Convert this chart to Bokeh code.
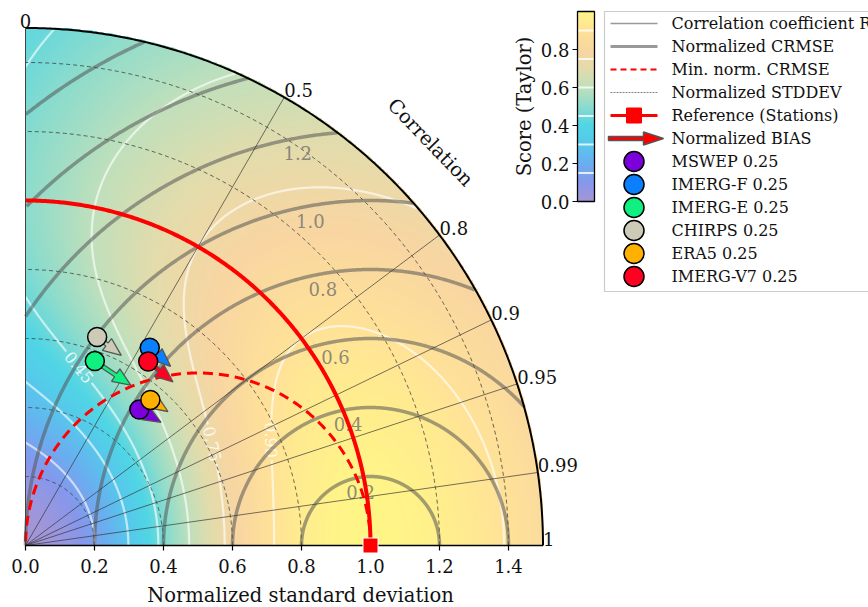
import numpy as np
from bokeh.plotting import figure
from bokeh.layouts import row
from bokeh.models import Range1d, FixedTicker, PrintfTickFormatter
from bokeh.core.properties import value
from bokeh.embed import file_html
from bokeh.resources import INLINE

# ---------------- data ----------------
datasets = ["MSWEP 0.25", "IMERG-F 0.25", "IMERG-E 0.25", "CHIRPS 0.25", "ERA5 0.25", "IMERG-V7 0.25"]
point_colors = ["#7b00dc", "#0a80ff", "#10f080", "#cdcab8", "#ffb000", "#ff0022"]
norm_std = [0.514, 0.677, 0.571, 0.639, 0.556, 0.641]
correlation = [0.642, 0.532, 0.352, 0.325, 0.651, 0.555]
norm_bias = [0.073, 0.081, 0.125, 0.088, 0.061, 0.093]

ref_std = 1.0
std_max = 1.5
std_ticks = [0.0, 0.2, 0.4, 0.6, 0.8, 1.0, 1.2, 1.4]
std_grid = [0.2, 0.4, 0.6, 0.8, 1.2, 1.4]
corr_grid = [0.5, 0.8, 0.9, 0.95, 0.99]
corr_labels = [0.0, 0.5, 0.8, 0.9, 0.95, 0.99, 1.0]
corr_label_text = ["0", "0.5", "0.8", "0.9", "0.95", "0.99", "1"]
crmse_levels = [0.2, 0.4, 0.6, 0.8, 1.0, 1.2, 1.4, 1.6]
crmse_labelled = [0.2, 0.4, 0.6, 0.8, 1.0, 1.2]
score_levels = [0.15, 0.30, 0.45, 0.60, 0.75, 0.90]
score_label_levels = [0.45, 0.75, 0.90]
score_label_corr = [0.288, 0.879, 0.919]
cbar_ticks = [0.0, 0.2, 0.4, 0.6, 0.8]

cmap_stops = [0.0, 0.1, 0.2, 0.3, 0.4, 0.5, 0.6, 0.7, 0.8, 0.9, 1.0]
cmap_rgb = [(165, 150, 215), (135, 152, 236), (105, 176, 240), (88, 200, 236),
            (80, 214, 230), (140, 220, 205), (192, 224, 188), (228, 220, 172),
            (249, 214, 162), (255, 226, 152), (255, 246, 135)]

FONT = value("DejaVu Serif")

# ---------------- page geometry ----------------
PX = 345.0             # pixels per unit of normalised std
X0, Y0 = 25, 545       # pixel position of the origin
W, H = 868, 607
SPLIT = 600            # width of the diagram panel; the legend panel fills the rest
BOTTOM = 553           # bottom of both frames (a little below the std axis)


def px2x(px):
    return (px - X0) / PX


def py2y(py):
    return (Y0 - py) / PX


def taylor_score(sig, r):
    return 2.0 * (1.0 + r) / (sig + 1.0 / sig) ** 2


def colormap(vals):
    vals = np.clip(np.asarray(vals, float), 0, 1)
    return [np.interp(vals, cmap_stops, [c[i] for c in cmap_rgb]) for i in range(3)]


p = figure(frame_width=SPLIT, frame_height=BOTTOM,
           x_range=Range1d(px2x(0), px2x(SPLIT)), y_range=Range1d(py2y(BOTTOM), py2y(0)),
           min_border_left=0, min_border_right=0, min_border_top=0, min_border_bottom=H - BOTTOM,
           y_axis_location=None, output_backend="svg", toolbar_location=None)
p.grid.visible = False
p.outline_line_color = None
p.background_fill_color = "white"
p.border_fill_color = "white"

# ---------------- score field ----------------
n = 700
g = np.linspace(0, std_max, n)
gx, gy = np.meshgrid(g, g)
sig = np.hypot(gx, gy)
safe = np.where(sig > 0, sig, 1.0)
score = np.where(sig > 0, taylor_score(safe, gx / safe), 0.0)
rgba = np.zeros((n, n, 4), dtype=np.uint8)
rch, gch, bch = colormap(score)
rgba[..., 0] = rch
rgba[..., 1] = gch
rgba[..., 2] = bch
rgba[..., 3] = np.where(sig <= std_max + 0.004, 255, 0)
p.image_rgba(image=[rgba.view(np.uint32).reshape(n, n)], x=0, y=0, dw=std_max, dh=std_max)


# ---------------- score contours ----------------
def inner_sigma(level, r):
    k = np.sqrt(2 * (1 + r) / level)
    return (k - np.sqrt(np.maximum(k * k - 4, 0))) / 2


def contour_xy(level):
    r_lo = 2 * level - 1
    t = np.linspace(0, 1, 600)
    R = r_lo + (1 - r_lo) * t ** 2 if r_lo > 0 else t
    k = np.sqrt(2 * (1 + R) / level)
    d = np.sqrt(np.maximum(k * k - 4, 0))
    s_in, s_out = (k - d) / 2, (k + d) / 2
    if r_lo > 0:
        s = np.concatenate([s_in[::-1], s_out])
        rr = np.concatenate([R[::-1], R])
    else:
        s = np.concatenate([s_in[::-1], [np.nan], s_out])
        rr = np.concatenate([R[::-1], [np.nan], R])
    x = s * rr
    y = s * np.sqrt(np.clip(1 - rr ** 2, 0, 1))
    out = s > std_max
    x[out] = np.nan
    y[out] = np.nan
    return x, y


lab_x, lab_y, lab_a, lab_t = [], [], [], []
for lev, rl in zip(score_label_levels, score_label_corr):
    s0 = inner_sigma(lev, rl)
    cx, cy = s0 * rl, s0 * np.sqrt(1 - rl ** 2)
    s1, s2 = inner_sigma(lev, rl - 0.004), inner_sigma(lev, rl + 0.004)
    dx = s2 * (rl + 0.004) - s1 * (rl - 0.004)
    dy = s2 * np.sqrt(1 - (rl + 0.004) ** 2) - s1 * np.sqrt(1 - (rl - 0.004) ** 2)
    ang = np.arctan2(dy, dx)
    if ang > np.pi / 2:
        ang -= np.pi
    if ang < -np.pi / 2:
        ang += np.pi
    lab_x.append(cx)
    lab_y.append(cy)
    lab_a.append(ang)
    lab_t.append(f"{lev:.2f}")

for lev in score_levels:
    x, y = contour_xy(lev)
    for cx, cy in zip(lab_x, lab_y):
        near = np.hypot(x - cx, y - cy) < 0.058
        x[near] = np.nan
        y[near] = np.nan
    p.line(x, y, line_color="white", line_alpha=0.62, line_width=2.2)

p.text(lab_x, lab_y, text=lab_t, angle=lab_a, text_font=FONT, text_font_size="16px",
       text_color="white", text_alpha=0.85, text_align="center", text_baseline="middle")

# ---------------- standard deviation arcs ----------------
th = np.linspace(0, np.pi / 2, 300)
p.multi_line([list(r * np.cos(th)) for r in std_grid], [list(r * np.sin(th)) for r in std_grid],
             line_color="#3a3a3a", line_width=0.9, line_dash="4 3", line_alpha=0.85)

# ---------------- CRMSE circles around the reference ----------------
phi = np.linspace(0, np.pi, 800)
for r in crmse_levels:
    x = ref_std + r * np.cos(phi)
    y = r * np.sin(phi)
    bad = (np.hypot(x, y) > std_max) | (x < 0)
    x[bad] = np.nan
    y[bad] = np.nan
    p.line(x, y, line_color="#555555", line_alpha=0.55, line_width=3.5)

lab_ang = np.deg2rad(100.5)
cl = np.array(crmse_labelled)
p.text(ref_std + (cl - 0.043) * np.cos(lab_ang), (cl - 0.043) * np.sin(lab_ang),
       text=[f"{v:.1f}" for v in crmse_labelled], text_font=FONT, text_font_size="18px",
       text_color="#707070", text_alpha=0.8, text_align="center", text_baseline="middle")

# ---------------- correlation rays ----------------
cg = np.array(corr_grid)
p.segment(x0=0, y0=0, x1=std_max * cg, y1=std_max * np.sqrt(1 - cg ** 2),
          line_color="#333333", line_width=0.8, line_alpha=0.85)

# ---------------- reference std arc and min-CRMSE locus ----------------
p.line(ref_std * np.cos(th), ref_std * np.sin(th), line_color="red", line_width=4)
ph = np.linspace(0, np.pi, 300)
p.line(ref_std / 2 + ref_std / 2 * np.cos(ph), ref_std / 2 * np.sin(ph),
       line_color="red", line_width=3, line_dash="10 6")

# ---------------- outline of the quarter disc and the std axis ----------------
p.line(std_max * np.cos(th), std_max * np.sin(th), line_color="black", line_width=2)
p.segment(x0=[0], y0=[0], x1=[0], y1=[std_max], line_color="#444444", line_width=1)
p.segment(x0=[0], y0=[0], x1=[std_max], y1=[0], line_color="black", line_width=1.3)
st = np.array(std_ticks)
p.segment(x0=st, y0=0, x1=st, y1=-5 / PX, line_color="black", line_width=1.2)

# correlation labels around the outer arc
ca = np.array(corr_labels)
ang_c = np.arccos(ca)
lx = std_max * np.cos(ang_c)
ly = std_max * np.sin(ang_c)
align = ["center" if v == 0 else "left" for v in corr_labels]
p.text(lx, ly, text=corr_label_text, text_font=FONT, text_font_size="18px",
       text_color="#111111", text_align=align, text_baseline="bottom")
p.text([px2x(430)], [py2y(142)], text=["Correlation"], angle=[np.deg2rad(-46)], text_font=FONT,
       text_font_size="19.5px", text_color="#111111", text_align="center", text_baseline="middle")

# ---------------- bias arrows and model points ----------------
std_a = np.array(norm_std)
cor_a = np.array(correlation)
px_pt = std_a * cor_a
py_pt = std_a * np.sqrt(1 - cor_a ** 2)


def arrow_poly(x0, y0, ux, uy, length, hl, hw, sw):
    nx_, ny_ = -uy, ux
    tx, ty = x0 + ux * length, y0 + uy * length
    bx, by = tx - ux * hl, ty - uy * hl
    xs = [x0 + nx_ * sw / 2, bx + nx_ * sw / 2, bx + nx_ * hw / 2, tx,
          bx - nx_ * hw / 2, bx - nx_ * sw / 2, x0 - nx_ * sw / 2]
    ys = [y0 + ny_ * sw / 2, by + ny_ * sw / 2, by + ny_ * hw / 2, ty,
          by - ny_ * hw / 2, by - ny_ * sw / 2, y0 - ny_ * sw / 2]
    return xs, ys


axs, ays = [], []
for x0, y0, b in zip(px_pt, py_pt, norm_bias):
    dx, dy = ref_std - x0, -y0
    d = np.hypot(dx, dy)
    xs, ys = arrow_poly(x0, y0, dx / d, dy / d, b, 18 / PX, 15 / PX, 4 / PX)
    axs.append(xs)
    ays.append(ys)
p.patches(axs, ays, fill_color=point_colors, line_color="#555555", line_width=1.3)
p.scatter(px_pt, py_pt, size=19, marker="circle", fill_color=point_colors,
          line_color="black", line_width=1.5)

# reference point
p.scatter([ref_std], [0], marker="square", size=15, fill_color="red", line_color="white", line_width=1)

# ---------------- x axis (labels) ----------------
ax = p.xaxis[0]
ax.ticker = FixedTicker(ticks=std_ticks)
ax.formatter = PrintfTickFormatter(format="%.1f")
ax.axis_line_color = None
ax.major_tick_line_color = None
ax.minor_tick_line_color = None
ax.major_tick_in = 0
ax.major_tick_out = 0
ax.major_label_standoff = 5
ax.major_label_text_font = "DejaVu Serif"
ax.major_label_text_font_size = "18px"
ax.major_label_text_color = "#111111"
ax.axis_label = "Normalized standard deviation"
ax.axis_label_text_font = "DejaVu Serif"
ax.axis_label_text_font_style = "normal"
ax.axis_label_text_font_size = "19.5px"
ax.axis_label_text_color = "#111111"
ax.axis_label_standoff = 8

# ---------------- colour bar ----------------
cb_l, cb_r, cb_b, cb_t = px2x(577), px2x(594), py2y(201), py2y(11)
cv = np.linspace(0, 1, 300)
cr, cgc, cbc = colormap(cv)
cb = np.zeros((300, 1, 4), dtype=np.uint8)
cb[:, 0, 0], cb[:, 0, 1], cb[:, 0, 2], cb[:, 0, 3] = cr, cgc, cbc, 255
p.image_rgba(image=[cb.view(np.uint32).reshape(300, 1)], x=cb_l, y=cb_b, dw=cb_r - cb_l, dh=cb_t - cb_b)
lv = np.array(score_levels)
p.segment(x0=cb_l, x1=cb_r, y0=cb_b + lv * (cb_t - cb_b), y1=cb_b + lv * (cb_t - cb_b),
          line_color="white", line_width=2, line_alpha=0.8)
p.quad(left=[cb_l], right=[cb_r], bottom=[cb_b], top=[cb_t], fill_color=None,
       line_color="black", line_width=1.3)
tv = np.array(cbar_ticks)
ty_ = cb_b + tv * (cb_t - cb_b)
p.segment(x0=px2x(572), x1=cb_l, y0=ty_, y1=ty_, line_color="black", line_width=1)
p.text([px2x(569)] * len(tv), ty_, text=[f"{v:.1f}" for v in cbar_ticks], text_font=FONT,
       text_font_size="18px", text_color="#111111", text_align="right", text_baseline="middle")
p.text([px2x(524)], [py2y(106)], text=["Score (Taylor)"], angle=[np.pi / 2], text_font=FONT,
       text_font_size="19.5px", text_color="#111111", text_align="center", text_baseline="middle")

# ---------------- legend panel (pixel coordinates, y downwards) ----------------
q = figure(frame_width=W - SPLIT, frame_height=BOTTOM, x_range=Range1d(SPLIT, W),
           y_range=Range1d(BOTTOM, 0), min_border_left=0, min_border_right=0, min_border_top=0,
           min_border_bottom=H - BOTTOM, x_axis_location=None, y_axis_location=None,
           output_backend="svg", toolbar_location=None)
q.grid.visible = False
q.outline_line_color = None
q.background_fill_color = "white"
q.border_fill_color = "white"

q.quad(left=[604], right=[880], bottom=[291], top=[11], fill_color="white",
       line_color="#cccccc", line_width=1.2)
entries = ["Correlation coefficient R", "Normalized CRMSE", "Min. norm. CRMSE", "Normalized STDDEV",
           "Reference (Stations)", "Normalized BIAS"] + datasets
row_y = [23 + 23 * i for i in range(len(entries))]
h0, h1, hc = 610, 657, 633.5
q.segment(x0=[h0], x1=[h1], y0=[row_y[0]], y1=[row_y[0]], line_color="#999999", line_width=1.3)
q.segment(x0=[h0], x1=[h1], y0=[row_y[1]], y1=[row_y[1]], line_color="#999999", line_width=3)
q.segment(x0=[h0], x1=[h1], y0=[row_y[2]], y1=[row_y[2]], line_color="red", line_width=2.2,
          line_dash="6 4")
q.segment(x0=[h0], x1=[h1], y0=[row_y[3]], y1=[row_y[3]], line_color="#666666", line_width=0.8,
          line_dash="2 1")
q.segment(x0=[h0], x1=[h1], y0=[row_y[4]], y1=[row_y[4]], line_color="red", line_width=3)
q.scatter([hc], [row_y[4]], marker="square", size=15, fill_color="red", line_color="red")
lxs, lys = arrow_poly(608, row_y[5], 1.0, 0.0, 55, 20, 13, 4)
q.patch(lxs, lys, fill_color="red", line_color="#555555", line_width=1.5)
q.scatter([hc] * len(datasets), row_y[6:], size=20, marker="circle", fill_color=point_colors,
          line_color="black", line_width=1.5)
q.text([671] * len(entries), row_y, text=entries, text_font=FONT, text_font_size="16px",
       text_color="#111111", text_align="left", text_baseline="middle")

open("out.html", "w").write(file_html(row(p, q), INLINE))
